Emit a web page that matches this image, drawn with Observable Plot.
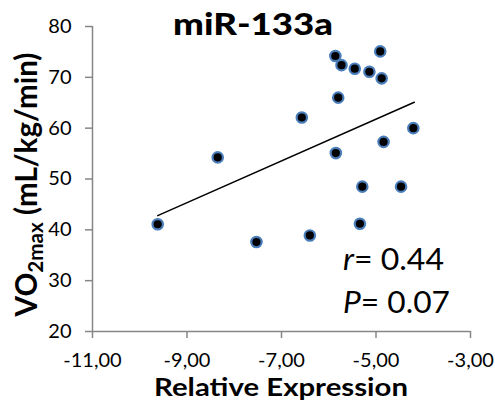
<!DOCTYPE html>
<html><head><meta charset="utf-8">
<script src="https://cdn.jsdelivr.net/npm/d3@7"></script>
<script src="https://cdn.jsdelivr.net/npm/@observablehq/plot@0.6"></script>
<style>body{margin:0;background:#fff;} svg{display:block;}</style>
</head><body><div id="chart"></div>
<script>
const expr = [-9.62,-8.35,-7.53,-6.40,-6.57,-5.86,-5.73,-5.80,-5.85,-5.45,-5.14,-4.91,-4.88,-4.84,-5.29,-5.34,-4.47,-4.21];
const vo2  = [41.1,54.25,37.6,38.9,62.1,74.2,72.4,66.0,55.1,71.7,71.1,75.1,69.8,57.3,48.5,41.2,48.5,60.0];
const trendX = [-9.62,-4.19];
const trendY = [42.8,65.1];
const xTicks = [-11,-9,-7,-5,-3];
const yTicks = [20,30,40,50,60,70,80];
const title = "miR-133a";
const xLabel = "Relative Expression";
const stats = [["r","= 0.44"],["P","= 0.07"]];

const pts = expr.map((x,i)=>({x, y: vo2[i]}));
const trend = trendX.map((x,i)=>({x, y: trendY[i]}));
const grey = "#868686";
const font = "Lato, 'Open Sans', sans-serif";

const plot = Plot.plot({
  width: 495, height: 406,
  marginLeft: 92, marginRight: 25, marginTop: 26, marginBottom: 75,
  style: {fontFamily: font, background: "#fff"},
  x: {domain: [-11,-3]},
  y: {domain: [20,80]},
  marks: [
    Plot.ruleX([-11], {stroke: grey, strokeWidth: 1.5}),
    Plot.ruleY([20], {stroke: grey, strokeWidth: 1.5}),
    Plot.axisX({ticks: xTicks, tickSize: 7, tickPadding: 14, stroke: grey, strokeWidth: 1.5, fill: "#000", fontSize: 20, label: null,
      tickFormat: d => d3.format(".2f")(d).replace(".", ",").replace("−","-")}),
    Plot.axisY({ticks: yTicks, tickSize: 7, tickPadding: 14, stroke: grey, strokeWidth: 1.5, fill: "#000", fontSize: 20, label: null}),
    Plot.line(trend, {x: "x", y: "y", stroke: "#000", strokeWidth: 1.5}),
    Plot.dot(pts, {x: "x", y: "y", r: 5.2, fill: "#000", stroke: "#4a7ebb", strokeWidth: 2.2})
  ]
});
document.getElementById("chart").appendChild(plot);

const svg = d3.select(plot);
// place a text at (x,y) and stretch it to width w
function fit(sel, x, y, w, anchor, rot) {
  const bw = sel.node().getBBox().width;
  const s = w / bw;
  sel.attr("text-anchor", anchor);
  sel.attr("transform", `translate(${x},${y})${rot ? " rotate(-90)" : ""} scale(${s},1)`);
}
const t = svg.append("text").style("font-family", font).style("font-weight","900").style("font-size","30px").text(title);
fit(t, 253, 35, 160, "middle");
const xl = svg.append("text").style("font-family", font).style("font-weight","bold").style("font-size","24px").text(xLabel);
fit(xl, 281, 396, 254, "middle");
const yl = svg.append("text").style("font-family", font).style("font-weight","bold").style("font-size","30px");
yl.append("tspan").text("VO");
yl.append("tspan").attr("dy", 6).style("font-size","21px").text("2max");
yl.append("tspan").attr("dy", -6).text(" (mL/kg/min)");
fit(yl, 37, 184.5, 265, "middle", true);
const sy = [270, 313], sw = [101, 107];
stats.forEach((s, i) => {
  const el = svg.append("text").style("font-family", font).style("font-size","30px");
  el.append("tspan").style("font-style","italic").text(s[0]);
  el.append("tspan").text(s[1]);
  fit(el, 343, sy[i], sw[i], "start");
});
</script></body></html>
